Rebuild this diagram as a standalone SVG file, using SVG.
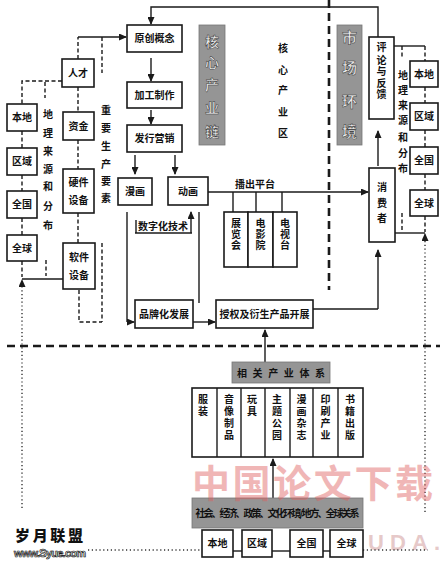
<svg xmlns="http://www.w3.org/2000/svg" width="440" height="562" viewBox="0 0 440 562">
<style>
.box{fill:#fff;stroke:#1a1a1a;stroke-width:1.6}
.gray{fill:#959595;stroke:#777;stroke-width:0.8}
.t{font-family:"Noto Sans CJK SC","Noto Sans",sans-serif;font-weight:700;font-size:10px;fill:#111;text-anchor:middle}
.gt{font-family:"Noto Sans CJK SC","Noto Sans",sans-serif;font-weight:700;fill:#eee;stroke:#333;stroke-width:0.5;text-anchor:middle}
.ln{stroke:#1a1a1a;stroke-width:1.4;fill:none}
.dl{stroke:#1a1a1a;stroke-width:1.4;fill:none;stroke-dasharray:4 2.5}
.big{stroke:#1a1a1a;stroke-width:2.6;fill:none;stroke-dasharray:8 5}
.dot{stroke:#333;stroke-width:1.4;fill:none;stroke-dasharray:1.2 2.6}
</style>
<defs>
<marker id="ar" markerUnits="userSpaceOnUse" markerWidth="8" markerHeight="7" refX="7" refY="3.5" orient="auto">
<path d="M0,0 L8,3.5 L0,7 z" fill="#1a1a1a"/>
</marker>
</defs>
<rect width="440" height="562" fill="#fff"/>

<text x="368" y="550" font-family="Liberation Sans,sans-serif" font-size="22" font-weight="700" fill="#e6c9c9" textLength="72">UDA.</text>

<g id="connectors">
<line class="big" x1="329" y1="0" x2="329" y2="290"/>
<line class="big" x1="7" y1="346" x2="440" y2="346"/>
<polyline class="ln" points="378,37 378,7 151,7 151,24" marker-end="url(#ar)"/>
<line class="dl" x1="78" y1="59" x2="78" y2="37"/>
<line class="ln" x1="78" y1="37" x2="126" y2="37" marker-end="url(#ar)"/>
<line class="dl" x1="102" y1="37" x2="102" y2="73"/>
<polyline class="dl" points="62,81 22,81 22,104"/>
<line class="dl" x1="45" y1="82" x2="45" y2="98"/>
<line class="dl" x1="22" y1="131" x2="22" y2="148"/>
<line class="dl" x1="22" y1="175" x2="22" y2="191"/>
<line class="dl" x1="22" y1="218" x2="22" y2="235"/>
<line class="dl" x1="22" y1="261" x2="22" y2="277"/>
<line class="dl" x1="46" y1="260" x2="46" y2="276"/>
<line class="dl" x1="78" y1="87" x2="78" y2="112"/>
<line class="dl" x1="78" y1="140" x2="78" y2="169"/>
<line class="dl" x1="78" y1="213" x2="78" y2="243"/>
<line class="dl" x1="102" y1="243" x2="102" y2="322"/>
<polyline class="dl" points="79,290 79,322 102,322"/>
<line class="ln" x1="63" y1="279" x2="22" y2="279"/>
<line class="dot" x1="22" y1="508" x2="22" y2="280" marker-end="url(#ar)"/>
<line class="ln" x1="151" y1="58" x2="151" y2="81" marker-end="url(#ar)"/>
<line class="ln" x1="151" y1="110" x2="151" y2="124" marker-end="url(#ar)"/>
<line class="ln" x1="135" y1="155" x2="135" y2="174" marker-end="url(#ar)"/>
<line class="ln" x1="175" y1="155" x2="175" y2="174" marker-end="url(#ar)"/>
<line class="ln" x1="136" y1="220" x2="136" y2="233"/>
<line class="ln" x1="135" y1="233" x2="192" y2="233"/>
<line class="ln" x1="191" y1="233" x2="191" y2="212" marker-end="url(#ar)"/>
<line class="ln" x1="127" y1="212" x2="127" y2="322"/>
<line class="ln" x1="127" y1="322" x2="134" y2="322" marker-end="url(#ar)"/>
<line class="ln" x1="199" y1="212" x2="199" y2="303"/>
<line class="ln" x1="193" y1="322" x2="215" y2="322" marker-end="url(#ar)"/>
<line class="ln" x1="208" y1="192" x2="368" y2="192" marker-end="url(#ar)"/>
<line class="ln" x1="233" y1="192" x2="233" y2="212"/>
<line class="ln" x1="256" y1="192" x2="256" y2="212"/>
<line class="ln" x1="282" y1="192" x2="282" y2="212"/>
<polyline class="ln" points="313,309 378,309"/>
<line class="ln" x1="378" y1="309" x2="378" y2="250" marker-end="url(#ar)"/>
<line class="ln" x1="378" y1="166" x2="378" y2="131" marker-end="url(#ar)"/>
<polyline class="ln" points="394,46 425,46"/>
<line class="dl" x1="425" y1="46" x2="425" y2="61"/>
<line class="dl" x1="402" y1="46" x2="402" y2="57"/>
<line class="dl" x1="425" y1="87" x2="425" y2="103"/>
<line class="dl" x1="425" y1="130" x2="425" y2="147"/>
<line class="dl" x1="425" y1="174" x2="425" y2="190"/>
<line class="dl" x1="425" y1="216" x2="425" y2="232"/>
<line class="dl" x1="402" y1="213" x2="402" y2="230"/>
<line class="ln" x1="395" y1="233" x2="425" y2="233"/>
<line class="dot" x1="425" y1="512" x2="425" y2="234" marker-end="url(#ar)"/>
<line class="ln" x1="265" y1="362" x2="265" y2="330" marker-end="url(#ar)"/>
<line class="ln" x1="273" y1="498" x2="273" y2="459" marker-end="url(#ar)"/>
<line class="dot" x1="88" y1="550" x2="202" y2="550"/>
<line class="dot" x1="363" y1="550" x2="428" y2="550"/>
<line class="ln" x1="233" y1="551" x2="242" y2="551"/>
<line class="ln" x1="272" y1="551" x2="290" y2="551"/>
<line class="ln" x1="323" y1="551" x2="330" y2="551"/>
</g>

<g id="talent"><rect class="box" x="62" y="59" width="32" height="28"/><text class="t" x="78" y="77" font-size="11">人才</text></g>
<g id="capital"><rect class="box" x="63" y="112" width="31" height="28"/><text class="t" x="78.5" y="130">资金</text></g>
<g id="hardware"><rect class="box" x="63" y="169" width="31" height="44"/><text class="t" x="78.5" y="186">硬件</text><text class="t" x="78.5" y="204">设备</text></g>
<g id="software"><rect class="box" x="63" y="243" width="32" height="46"/><text class="t" x="79" y="261">软件</text><text class="t" x="79" y="279">设备</text></g>
<g id="factors-label"><text class="t" x="106"><tspan x="106" y="114">重</tspan><tspan x="106" y="132">要</tspan><tspan x="106" y="150">生</tspan><tspan x="106" y="168">产</tspan><tspan x="106" y="185">要</tspan><tspan x="106" y="202">素</tspan></text></g>

<g id="l-local"><rect class="box" x="7" y="104" width="30" height="27"/><text class="t" x="22" y="121">本地</text></g>
<g id="l-region"><rect class="box" x="7" y="148" width="30" height="27"/><text class="t" x="22" y="165">区域</text></g>
<g id="l-nation"><rect class="box" x="7" y="191" width="30" height="27"/><text class="t" x="22" y="208">全国</text></g>
<g id="l-global"><rect class="box" x="7" y="235" width="30" height="26"/><text class="t" x="22" y="252">全球</text></g>
<g id="l-geo-label"><text class="t"><tspan x="48" y="118">地</tspan><tspan x="48" y="137">理</tspan><tspan x="48" y="155">来</tspan><tspan x="48" y="173">源</tspan><tspan x="48" y="190">和</tspan><tspan x="48" y="210">分</tspan><tspan x="48" y="229">布</tspan></text></g>

<g id="concept"><rect class="box" x="127" y="25" width="55" height="27"/><text class="t" x="154.5" y="42">原创概念</text></g>
<g id="production"><rect class="box" x="127" y="82" width="55" height="26"/><text class="t" x="154.5" y="99">加工制作</text></g>
<g id="marketing"><rect class="box" x="127" y="125" width="55" height="27"/><text class="t" x="154.5" y="142">发行营销</text></g>
<g id="comic"><rect class="box" x="118" y="178" width="34" height="27"/><text class="t" x="135" y="195">漫画</text></g>
<g id="animation"><rect class="box" x="168" y="177" width="40" height="28"/><text class="t" x="188" y="195">动画</text></g>
<g id="digital"><text class="t" x="163" y="230">数字化技术</text></g>
<g id="platform"><text class="t" x="255" y="188" font-size="9.5">播出平台</text></g>
<g id="exhibit"><rect class="box" x="224" y="212" width="24" height="55"/><text class="t"><tspan x="236" y="227">展</tspan><tspan x="236" y="238">览</tspan><tspan x="236" y="249">会</tspan></text></g>
<g id="cinema"><rect class="box" x="248" y="212" width="25" height="55"/><text class="t"><tspan x="260.5" y="227">电</tspan><tspan x="260.5" y="238">影</tspan><tspan x="260.5" y="249">院</tspan></text></g>
<g id="tv"><rect class="box" x="273" y="212" width="24" height="55"/><text class="t"><tspan x="285" y="227">电</tspan><tspan x="285" y="238">视</tspan><tspan x="285" y="249">台</tspan></text></g>
<g id="brand"><rect class="box" x="135" y="300" width="58" height="28"/><text class="t" x="164" y="318">品牌化发展</text></g>
<g id="license"><rect class="box" x="216" y="300" width="97" height="28"/><text class="t" x="264.5" y="318">授权及衍生产品开展</text></g>

<g id="core-chain-label"><rect class="gray" x="199" y="25" width="26" height="120" fill="#8e8e8e"/><text class="gt" font-size="14"><tspan x="212" y="47">核</tspan><tspan x="212" y="68">心</tspan><tspan x="212" y="90">产</tspan><tspan x="212" y="113">业</tspan><tspan x="212" y="137">链</tspan></text></g>
<g id="core-zone-label"><text class="t" font-size="9.5"><tspan x="283" y="52">核</tspan><tspan x="283" y="74">心</tspan><tspan x="283" y="94">产</tspan><tspan x="283" y="116">业</tspan><tspan x="283" y="137">区</tspan></text></g>
<g id="market-label"><rect class="gray" x="337" y="25" width="25" height="120" fill="#8e8e8e"/><text class="gt" font-size="15"><tspan x="349.5" y="43">市</tspan><tspan x="349.5" y="73">场</tspan><tspan x="349.5" y="107">环</tspan><tspan x="349.5" y="137">境</tspan></text></g>

<g id="feedback"><rect class="box" x="369" y="37" width="25" height="82"/><text class="t"><tspan x="381.5" y="51">评</tspan><tspan x="381.5" y="64">论</tspan><tspan x="381.5" y="75">与</tspan><tspan x="381.5" y="87">反</tspan><tspan x="381.5" y="98">馈</tspan></text></g>
<g id="consumer"><rect class="box" x="369" y="168" width="26" height="74"/><text class="t" font-size="10.5"><tspan x="382" y="191">消</tspan><tspan x="382" y="207">费</tspan><tspan x="382" y="222">者</tspan></text></g>
<g id="r-geo-label"><text class="t"><tspan x="403" y="79">地</tspan><tspan x="403" y="94">理</tspan><tspan x="403" y="109">来</tspan><tspan x="403" y="124">源</tspan><tspan x="403" y="141">和</tspan><tspan x="403" y="157">分</tspan><tspan x="403" y="172">布</tspan></text></g>
<g id="r-local"><rect class="box" x="410" y="61" width="28" height="26"/><text class="t" x="424" y="78">本地</text></g>
<g id="r-region"><rect class="box" x="410" y="103" width="28" height="27"/><text class="t" x="424" y="120">区域</text></g>
<g id="r-nation"><rect class="box" x="410" y="147" width="28" height="27"/><text class="t" x="424" y="164">全国</text></g>
<g id="r-global"><rect class="box" x="410" y="190" width="28" height="26"/><text class="t" x="424" y="207">全球</text></g>

<g id="related-label"><rect class="gray" x="232" y="362" width="98" height="21" fill="#9a9a9a"/><text class="t" x="281" y="377" font-size="12.5" textLength="88" fill="#222">相关产业体系</text></g>
<g id="industries">
<rect class="box" x="192" y="388" width="171" height="69"/>
<line class="ln" x1="217" y1="388" x2="217" y2="457"/>
<line class="ln" x1="241" y1="388" x2="241" y2="457"/>
<line class="ln" x1="265" y1="388" x2="265" y2="457"/>
<line class="ln" x1="290" y1="388" x2="290" y2="457"/>
<line class="ln" x1="313" y1="388" x2="313" y2="457"/>
<line class="ln" x1="338" y1="388" x2="338" y2="457"/>
<text class="t"><tspan x="203" y="403">服</tspan><tspan x="203" y="415">装</tspan></text>
<text class="t"><tspan x="229" y="403">音</tspan><tspan x="229" y="415">像</tspan><tspan x="229" y="427">制</tspan><tspan x="229" y="439">品</tspan></text>
<text class="t"><tspan x="252" y="403">玩</tspan><tspan x="252" y="415">具</tspan></text>
<text class="t"><tspan x="277" y="403">主</tspan><tspan x="277" y="415">题</tspan><tspan x="277" y="427">公</tspan><tspan x="277" y="439">园</tspan></text>
<text class="t"><tspan x="301.5" y="403">漫</tspan><tspan x="301.5" y="415">画</tspan><tspan x="301.5" y="427">杂</tspan><tspan x="301.5" y="439">志</tspan></text>
<text class="t"><tspan x="325.5" y="403">印</tspan><tspan x="325.5" y="415">刷</tspan><tspan x="325.5" y="427">产</tspan><tspan x="325.5" y="439">业</tspan></text>
<text class="t"><tspan x="350" y="403">书</tspan><tspan x="350" y="415">籍</tspan><tspan x="350" y="427">出</tspan><tspan x="350" y="439">版</tspan></text>
</g>

<g id="environment"><rect class="gray" x="192" y="498" width="171" height="30" fill="#9c9c9c"/><text class="t" x="277.5" y="517" font-size="8.5" textLength="164" fill="#1a1a1a">社会、经济、政策、文化环境/地方、全球关系</text></g>
<g id="b-local"><rect class="box" x="202" y="530" width="31" height="27"/><text class="t" x="217.5" y="547">本地</text></g>
<g id="b-region"><rect class="box" x="242" y="530" width="30" height="27"/><text class="t" x="257" y="547">区域</text></g>
<g id="b-nation"><rect class="box" x="290" y="530" width="33" height="27"/><text class="t" x="306.5" y="547">全国</text></g>
<g id="b-global"><rect class="box" x="330" y="530" width="33" height="27"/><text class="t" x="346.5" y="547">全球</text></g>

<text x="192" y="497" font-family="Noto Sans CJK SC,sans-serif" font-size="38" font-weight="700" fill="#e06060" opacity="0.45" textLength="241">中国论文下载</text>
<text x="15" y="541" font-family="Noto Sans CJK SC,sans-serif" font-size="15" font-weight="900" fill="#111" textLength="68">岁月联盟</text>
<text x="14" y="557" font-family="Liberation Sans,sans-serif" font-size="11" font-weight="700" fill="#fff" stroke="#111" stroke-width="0.7" textLength="72">www.Syue.com</text>
</svg>
